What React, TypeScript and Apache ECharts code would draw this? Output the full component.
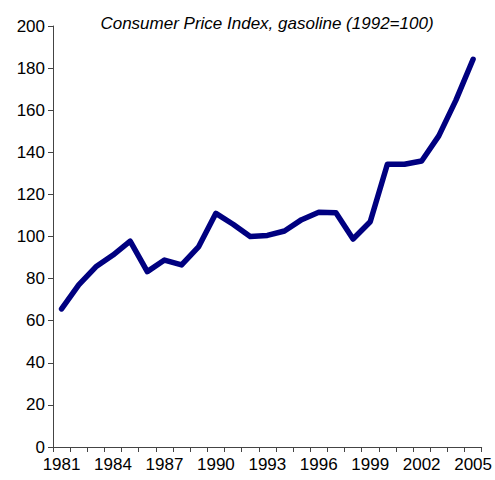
import React, { useEffect, useRef } from "react";
import * as echarts from "echarts";

const years = ["1981","1982","1983","1984","1985","1986","1987","1988","1989","1990","1991","1992","1993","1994","1995","1996","1997","1998","1999","2000","2001","2002","2003","2004","2005"];
const cpiGasoline = [65.6, 77, 85.6, 91.2, 97.8, 83.3, 88.8, 86.5, 95.2, 111, 105.8, 100, 100.5, 102.6, 108, 111.5, 111.3, 98.8, 107, 134.3, 134.3, 135.9, 147.8, 164.8, 184.2];
const titleText = "Consumer Price Index, gasoline (1992=100)";

export default function App() {
  const ref = useRef<HTMLDivElement>(null);
  useEffect(() => {
    const chart = echarts.init(ref.current!, null, { renderer: "svg" });
    chart.setOption({
      animation: false,
      backgroundColor: "#ffffff",
      textStyle: { fontFamily: "Liberation Sans, Arial, sans-serif" },
      title: {
        text: titleText,
        left: 262,
        top: 10,
        textAlign: "center",
        textStyle: { fontSize: 17, fontStyle: "italic", fontWeight: "normal", color: "#000", fontFamily: "Liberation Sans, Arial, sans-serif" },
      },
      grid: { left: 53, right: 13, top: 26, bottom: 33, containLabel: false },
      xAxis: {
        type: "category",
        data: years,
        boundaryGap: true,
        axisLine: { lineStyle: { color: "#444", width: 1 } },
        axisTick: { show: true, interval: 0, length: 5, alignWithLabel: false, lineStyle: { color: "#444" } },
        axisLabel: { interval: 2, fontSize: 17, color: "#000", margin: 9, fontFamily: "Liberation Sans, Arial, sans-serif" },
        splitLine: { show: false },
      },
      yAxis: {
        type: "value",
        min: 0,
        max: 200,
        interval: 20,
        axisLine: { show: true, lineStyle: { color: "#444", width: 1 } },
        axisTick: { show: true, length: 5, lineStyle: { color: "#444" } },
        axisLabel: { fontSize: 17, color: "#000", margin: 8, fontFamily: "Liberation Sans, Arial, sans-serif" },
        splitLine: { show: false },
      },
      series: [
        {
          type: "line",
          data: cpiGasoline,
          symbol: "none",
          lineStyle: { color: "#000080", width: 5.5, cap: "round", join: "round" },
          itemStyle: { color: "#000080" },
        },
      ],
    });
    return () => chart.dispose();
  }, []);
  return <div ref={ref} style={{ width: 495, height: 480, position: "absolute", left: 0, top: 0 }} />;
}
